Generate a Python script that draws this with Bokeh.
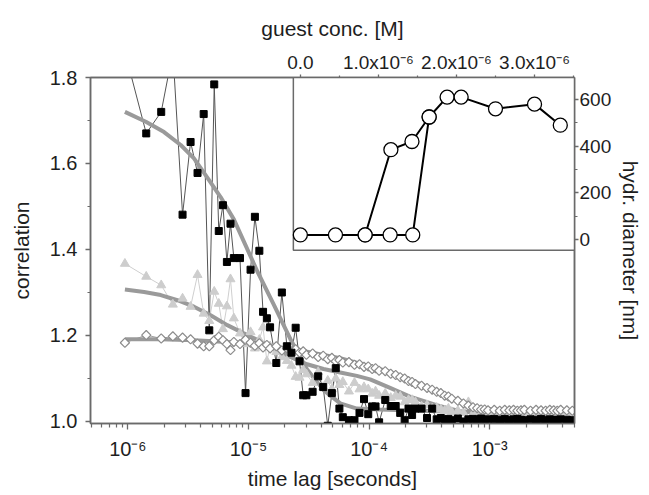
from bokeh.plotting import figure
from bokeh.models import (Range1d, LinearScale, LinearAxis, FixedTicker,
                          CustomJSTickFormatter, PrintfTickFormatter)
from bokeh.embed import file_html
from bokeh.resources import INLINE

# ---------------- data: main correlation curves ----------------
# lag times in microseconds (multi-tau correlator channels)
tau_us = [0.945, 1.42, 1.89, 2.36, 2.84, 3.31, 3.78, 4.25, 4.73, 5.20, 5.67, 6.14, 6.62, 7.09, 7.56,
          8.50, 9.45, 10.4, 11.3, 12.3, 13.2, 14.2, 15.1,
          17.0, 18.9, 20.8, 22.7, 24.6, 26.5, 28.4, 30.2,
          34.0, 37.8, 41.6, 45.4, 49.1, 52.9, 56.7, 60.5,
          68.0, 75.6, 83.2, 90.7, 98.3, 106, 113, 121,
          136, 151, 166, 181, 197, 212, 227, 242,
          272, 302, 333, 363, 393, 423, 454, 484,
          544, 605, 665, 726, 786, 847, 907, 968,
          1089, 1210, 1331, 1452, 1573, 1694, 1815, 1935,
          2177, 2419, 2661, 2903, 3145, 3387, 3629, 3871,
          4355, 4838]

squares = [1.86, 1.670, 1.720, 1.86, 1.481, 1.650, 1.578, 1.715, 1.212, 1.784, 1.443, 1.503, 1.371, 1.460, 1.380,
           1.380, 1.066, 1.353, 1.476, 1.397, 1.255, 1.240, 1.219,
           1.136, 1.300, 1.175, 1.160, 1.218, 1.140, 1.061, 1.061,
           1.069, 1.105, 1.080, 0.990, 1.066, 1.124, 1.030, 1.010,
           1.003, 1.003, 1.020, 1.052, 1.017, 1.035, 1.035, 0.998,
           1.050, 1.036, 1.036, 1.020, 1.003, 1.030, 1.015, 1.030,
           1.030, 1.008, 1.030, 1.005, 1.008, 1.004, 1.006, 1.003,
           1.007, 1.000, 1.005, 1.006, 1.004, 1.007, 1.003, 1.005,
           1.006, 1.004, 1.006, 1.003, 1.005, 1.006, 1.004, 1.003,
           1.005, 1.004, 1.006, 1.003, 1.005, 1.004, 1.003, 1.005,
           1.004, 1.003]

triangles = [1.367, 1.337, 1.317, 1.272, 1.286, 1.267, 1.341, 1.251, 1.234, 1.302, 1.274, 1.215, 1.268, 1.331, 1.240,
             1.205, 1.180, 1.208, 1.170, 1.190, 1.219, 1.140, 1.175,
             1.162, 1.150, 1.141, 1.130, 1.104, 1.102, 1.120, 1.110,
             1.090, 1.115, 1.080, 1.095, 1.075, 1.100, 1.085, 1.092,
             1.070, 1.090, 1.075, 1.080, 1.075, 1.065, 1.070, 1.060,
             1.065, 1.055, 1.060, 1.058, 1.045, 1.050, 1.050, 1.045,
             1.035, 1.038, 1.030, 1.032, 1.028, 1.025, 1.030, 1.022,
             1.025, 1.020, 1.045, 1.018, 1.020, 1.018, 1.020, 1.017,
             1.019, 1.018, 1.020, 1.017, 1.019, 1.018, 1.020, 1.017,
             1.019, 1.018, 1.017, 1.019, 1.018, 1.020, 1.017, 1.019,
             1.018, 1.017]

diamonds = [1.183, 1.201, 1.193, 1.198, 1.195, 1.191, 1.181, 1.175, 1.175, 1.189, 1.197, 1.189, 1.180, 1.166, 1.185,
            1.180, 1.190, 1.183, 1.176, 1.182, 1.172, 1.178, 1.170,
            1.175, 1.165, 1.170, 1.163, 1.168, 1.160, 1.163, 1.155,
            1.158, 1.150, 1.153, 1.145, 1.148, 1.140, 1.143, 1.137,
            1.138, 1.132, 1.133, 1.127, 1.128, 1.122, 1.124, 1.118,
            1.117, 1.111, 1.108, 1.103, 1.100, 1.094, 1.092, 1.087,
            1.083, 1.078, 1.074, 1.069, 1.066, 1.060, 1.058, 1.053,
            1.048, 1.042, 1.037, 1.033, 1.031, 1.028, 1.028, 1.026,
            1.027, 1.025, 1.027, 1.026, 1.027, 1.025, 1.026, 1.027,
            1.025, 1.027, 1.026, 1.025, 1.027, 1.026, 1.025, 1.027,
            1.026, 1.025]

# fit curves
fit1_tau_us = [0.945, 1.409, 1.995, 2.742, 3.53, 4.557, 5.87, 7.56, 9.44, 11.8, 16.2, 22.2, 30.6, 41.9,
               57.6, 79.1, 123, 264, 684, 1770, 4838]
fit1_val = [1.720, 1.697, 1.673, 1.643, 1.612, 1.567, 1.522, 1.470, 1.410, 1.350, 1.272, 1.192, 1.121, 1.073,
            1.042, 1.030, 1.028, 1.025, 1.022, 1.020, 1.018]

fit2_tau_us = [0.945, 1.364, 1.874, 2.575, 3.53, 4.853, 6.668, 9.15, 11.8, 16.2, 22.2, 30.6, 41.9, 57.6,
               79.1, 101.9, 149.2, 218, 362.6, 565, 827, 1770, 4838]
fit2_val = [1.307, 1.301, 1.294, 1.282, 1.267, 1.247, 1.224, 1.205, 1.190, 1.170, 1.150, 1.133, 1.122, 1.114,
            1.106, 1.098, 1.078, 1.058, 1.038, 1.024, 1.020, 1.019, 1.019]

fit3_tau_us = [0.945, 1.874, 3.53, 6.67, 10.4, 16.2, 30.6, 57.6, 101.9, 149.2, 218, 319, 467, 642, 827,
               1210, 4838]
fit3_val = [1.191, 1.191, 1.189, 1.185, 1.181, 1.174, 1.162, 1.147, 1.128, 1.115, 1.097, 1.078, 1.057, 1.039,
            1.030, 1.027, 1.026]

# ---------------- data: inset ----------------
conc_a = [0.0, 0.45e-6, 0.83e-6, 1.16e-6, 1.43e-6, 1.65e-6, 1.88e-6, 2.06e-6, 2.50e-6, 3.00e-6, 3.33e-6]
diam_a = [20, 20, 20, 385, 420, 525, 610, 610, 560, 580, 490]
conc_b = [0.83e-6, 1.15e-6, 1.44e-6, 1.65e-6]
diam_b = [20, 20, 20, 525]

# inset frame (in inset data units)
INSET_LEFT = -0.0894e-6
INSET_BOTTOM = -45.9

FONT = "Liberation Sans"
TXT = "#1e1e1e"
AX = "#6a6a6a"
FIT = "#9a9a9a"

tau = [t * 1e-6 for t in tau_us]
f1t = [t * 1e-6 for t in fit1_tau_us]
f2t = [t * 1e-6 for t in fit2_tau_us]
f3t = [t * 1e-6 for t in fit3_tau_us]

p = figure(width=645, height=494, x_axis_type="log",
           x_range=Range1d(4.9e-7, 5.04e-3), y_range=Range1d(0.9953, 1.8),
           output_backend="svg", toolbar_location=None,
           min_border_left=90, min_border_right=70, min_border_top=77, min_border_bottom=71)
p.xgrid.visible = False
p.ygrid.visible = False
p.outline_line_color = AX
p.outline_line_width = 1.5
p.border_fill_color = "white"
p.background_fill_color = "white"

p.extra_x_ranges = {"conc": Range1d(-2.688e-6, 3.512e-6)}
p.extra_x_scales = {"conc": LinearScale()}
p.extra_y_ranges = {"diam": Range1d(-787, 694)}
p.extra_y_scales = {"diam": LinearScale()}


def style_axis(ax, tick_size, label_size):
    ax.axis_line_color = AX
    ax.axis_line_width = 1.5
    ax.major_tick_line_color = AX
    ax.minor_tick_line_color = AX
    ax.major_tick_line_width = 1.3
    ax.minor_tick_line_width = 1.2
    ax.major_label_text_font = FONT
    ax.major_label_text_font_size = tick_size
    ax.major_label_text_color = TXT
    ax.axis_label_text_font = FONT
    ax.axis_label_text_font_size = label_size
    ax.axis_label_text_font_style = "normal"
    ax.axis_label_text_color = TXT


# bottom log axis
xa = p.xaxis[0]
minor_x = [m * 10.0 ** e for e in range(-7, -2) for m in range(2, 10)]
minor_x = [v for v in minor_x if 4.9e-7 <= v <= 5.04e-3]
xa.ticker = FixedTicker(ticks=[1e-6, 1e-5, 1e-4, 1e-3], minor_ticks=minor_x)
xa.formatter = CustomJSTickFormatter(code="""
const sup = {"-":"\\u207b","0":"\\u2070","1":"\\u00b9","2":"\\u00b2","3":"\\u00b3",
             "4":"\\u2074","5":"\\u2075","6":"\\u2076","7":"\\u2077","8":"\\u2078","9":"\\u2079"};
const e = Math.round(Math.log10(tick));
return "10" + String(e).split("").map(c => sup[c]).join("");
""")
xa.axis_label = "time lag [seconds]"
style_axis(xa, "20px", "21px")
xa.major_tick_in = 0
xa.major_tick_out = 6
xa.minor_tick_in = 0
xa.minor_tick_out = 4
xa.major_label_standoff = 8
xa.axis_label_standoff = 4

# left axis
ya = p.yaxis[0]
ya.ticker = FixedTicker(ticks=[1.0, 1.2, 1.4, 1.6, 1.8], minor_ticks=[1.1, 1.3, 1.5, 1.7])
ya.formatter = PrintfTickFormatter(format="%.1f")
ya.axis_label = "correlation"
style_axis(ya, "20px", "21px")
ya.major_tick_in = 0
ya.major_tick_out = 5
ya.minor_tick_in = 0
ya.minor_tick_out = 3
ya.major_label_standoff = 8
ya.axis_label_standoff = 14

# inset top axis
ta = LinearAxis(x_range_name="conc",
                ticker=FixedTicker(ticks=[0.0, 1e-6, 2e-6, 3e-6], minor_ticks=[0.5e-6, 1.5e-6, 2.5e-6, 3.5e-6]),
                formatter=CustomJSTickFormatter(code="""
if (Math.abs(tick) < 1e-12) { return "0.0"; }
return (tick * 1e6).toFixed(1) + "x10\\u207b\\u2076";
"""),
                axis_label="guest conc. [M]")
style_axis(ta, "19px", "21px")
ta.major_tick_in = 0
ta.major_tick_out = 3
ta.minor_tick_in = 0
ta.minor_tick_out = 2
ta.major_label_standoff = 2
ta.axis_label_standoff = 9
p.add_layout(ta, "above")

# inset right axis
ra = LinearAxis(y_range_name="diam",
                ticker=FixedTicker(ticks=[0, 200, 400, 600], minor_ticks=[100, 300, 500]),
                axis_label="hydr. diameter [nm]")
style_axis(ra, "19px", "21px")
ra.major_tick_in = 0
ra.major_tick_out = 4
ra.minor_tick_in = 0
ra.minor_tick_out = 3
ra.major_label_standoff = 1
ra.axis_label_standoff = 5
p.add_layout(ra, "right")

# ---- main data ----
p.line(tau, diamonds, line_color="#a0a0a0", line_width=1)
p.line(tau, triangles, line_color="#cfcfcf", line_width=1)
p.line(tau, squares, line_color="#555555", line_width=1)

p.line(f3t, fit3_val, line_color=FIT, line_width=4)
p.line(f2t, fit2_val, line_color=FIT, line_width=4)
p.line(f1t, fit1_val, line_color=FIT, line_width=4)

p.scatter(tau, triangles, marker="triangle", size=9, fill_color="#cdcdcd", line_color="#cdcdcd")
p.scatter(tau, diamonds, marker="square", angle=0.7854, size=6.5, fill_color="white",
          line_color="#8c8c8c", line_width=1.2)
p.scatter(tau, squares, marker="square", size=7, fill_color="black", line_color="black")

# ---- inset ----
p.quad(left=INSET_LEFT, right=1.0, bottom=INSET_BOTTOM, top=1e5,
       x_range_name="conc", y_range_name="diam",
       fill_color="white", line_color=AX, line_width=1.5)
p.line(conc_a, diam_a, x_range_name="conc", y_range_name="diam", line_color="black", line_width=2)
p.line(conc_b, diam_b, x_range_name="conc", y_range_name="diam", line_color="black", line_width=2)
p.scatter(conc_a, diam_a, x_range_name="conc", y_range_name="diam", marker="circle", size=14,
          fill_color="white", line_color="black", line_width=1.3)
p.scatter(conc_b, diam_b, x_range_name="conc", y_range_name="diam", marker="circle", size=14,
          fill_color="white", line_color="black", line_width=1.3)

open("out.html", "w", encoding="utf-8").write(file_html(p, INLINE))
